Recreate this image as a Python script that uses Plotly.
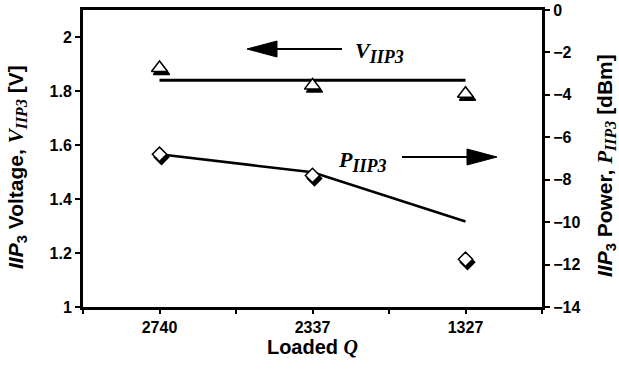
import plotly.graph_objects as go

# ---- data ----
Q_LABELS = ["2740", "2337", "1327"]
V_MEASURED = [1.885, 1.82, 1.79]       # triangles, left axis [V]
V_FIT = [1.84, 1.84, 1.84]             # line, left axis [V]
P_MEASURED = [-6.8, -7.8, -11.75]      # diamonds, right axis [dBm]
P_FIT = [-6.8, -7.65, -9.97]           # line, right axis [dBm]
LEFT_TICKS = [1, 1.2, 1.4, 1.6, 1.8, 2]
LEFT_TICKTEXT = ["1", "1.2", "1.4", "1.6", "1.8", "2"]
RIGHT_TICKS = [0, -2, -4, -6, -8, -10, -12, -14]

X = list(range(len(Q_LABELS)))

# ---- layout geometry (pixels) ----
W, H = 619, 377
PL, PR, PT, PB = 83, 542, 10, 307
XR = [-0.5, 2.5]
YL = [1, 2.1]
YR = [-14, 0]
SHX, SHY = 2, 3  # shadow offset in px

def xp(px):
    return (px - PL) / (PR - PL)

def yp(py):
    return (PB - py) / (PB - PT)

dx = SHX * (XR[1] - XR[0]) / (PR - PL)
dyl = SHY * (YL[1] - YL[0]) / (PB - PT)
dyr = SHY * (YR[1] - YR[0]) / (PB - PT)

SANS = "Liberation Sans, Arial, sans-serif"
SERIF = "Liberation Serif, Times New Roman, serif"

fig = go.Figure()

# shadows (base hidden axes, shifted ranges)
fig.add_trace(go.Scatter(x=X, y=V_MEASURED, xaxis="x", yaxis="y", mode="markers",
                         marker=dict(symbol="triangle-up", size=14, color="black",
                                     line=dict(color="black", width=1.5)),
                         hoverinfo="skip", showlegend=False))
fig.add_trace(go.Scatter(x=X, y=P_MEASURED, xaxis="x", yaxis="y2", mode="markers",
                         marker=dict(symbol="diamond", size=11, color="black",
                                     line=dict(color="black", width=1.5)),
                         hoverinfo="skip", showlegend=False))

# visible series
fig.add_trace(go.Scatter(x=X, y=V_FIT, xaxis="x3", yaxis="y3", mode="lines",
                         line=dict(color="black", width=3), showlegend=False))
fig.add_trace(go.Scatter(x=X, y=V_MEASURED, xaxis="x3", yaxis="y3", mode="markers",
                         marker=dict(symbol="triangle-up", size=14, color="white",
                                     line=dict(color="black", width=1.5)),
                         showlegend=False))
fig.add_trace(go.Scatter(x=X, y=P_FIT, xaxis="x3", yaxis="y4", mode="lines",
                         line=dict(color="black", width=2.5), showlegend=False))
fig.add_trace(go.Scatter(x=X, y=P_MEASURED, xaxis="x3", yaxis="y4", mode="markers",
                         marker=dict(symbol="diamond", size=11, color="white",
                                     line=dict(color="black", width=1.5)),
                         showlegend=False))

tickfont = dict(family=SANS, size=16, color="black", weight="bold")

shapes = []
# V arrow (pointing left)
shapes.append(dict(type="line", xref="paper", yref="paper",
                   x0=xp(275), y0=yp(49), x1=xp(342), y1=yp(49),
                   line=dict(color="black", width=2)))
shapes.append(dict(type="path", xref="paper", yref="paper",
                   path=f"M{xp(247)},{yp(49)} L{xp(277)},{yp(41)} L{xp(277)},{yp(57)} Z",
                   fillcolor="black", line=dict(color="black", width=1)))
# P arrow (pointing right)
shapes.append(dict(type="line", xref="paper", yref="paper",
                   x0=xp(402), y0=yp(157), x1=xp(469), y1=yp(157),
                   line=dict(color="black", width=2)))
shapes.append(dict(type="path", xref="paper", yref="paper",
                   path=f"M{xp(497)},{yp(157)} L{xp(467)},{yp(149)} L{xp(467)},{yp(165)} Z",
                   fillcolor="black", line=dict(color="black", width=1)))

SUB = "<sub><span style='font-size:18px'>IIP3</span></sub>"
TSUB = "<sub><span style='font-size:16px'>IIP3</span></sub>"
annotations = [
    dict(xref="paper", yref="paper", x=xp(353), y=yp(52), xanchor="left", yanchor="middle",
         text=f"<b><i>V{SUB}</i></b>", showarrow=False,
         font=dict(family=SERIF, size=22, color="black")),
    dict(xref="paper", yref="paper", x=xp(336), y=yp(161), xanchor="left", yanchor="middle",
         text=f"<b><i>P{SUB}</i></b>", showarrow=False,
         font=dict(family=SERIF, size=22, color="black")),
    # left axis title
    dict(xref="paper", yref="paper", x=xp(17), y=yp(167), xanchor="center", yanchor="middle",
         textangle=-90, showarrow=False,
         text=f"<b><i>IIP</i><sub>3</sub> Voltage, <span style='font-family:{SERIF}'><i>V{TSUB}</i></span> [V]</b>",
         font=dict(family=SANS, size=21, color="black")),
    # right axis title
    dict(xref="paper", yref="paper", x=xp(606), y=yp(166), xanchor="center", yanchor="middle",
         textangle=-90, showarrow=False,
         text=f"<b><i>IIP</i><sub>3</sub> Power, <span style='font-family:{SERIF}'><i>P{TSUB}</i></span> [dBm]</b>",
         font=dict(family=SANS, size=21, color="black")),
]

fig.update_layout(
    width=W, height=H,
    margin=dict(l=PL, r=W - PR, t=PT, b=H - PB, pad=0, autoexpand=False),
    paper_bgcolor="white", plot_bgcolor="white",
    showlegend=False,
    shapes=shapes,
    annotations=annotations,
    xaxis=dict(range=[XR[0] - dx, XR[1] - dx], visible=False, fixedrange=True,
               automargin=False),
    yaxis=dict(range=[YL[0] + dyl, YL[1] + dyl], visible=False, fixedrange=True,
               automargin=False),
    yaxis2=dict(range=[YR[0] + dyr, YR[1] + dyr], visible=False, overlaying="y",
                fixedrange=True, automargin=False),
    xaxis3=dict(range=XR, overlaying="x", anchor="y3", side="bottom",
                tickmode="array", tickvals=X, ticktext=Q_LABELS,
                ticks="outside", ticklen=4, tickwidth=2, tickcolor="black",
                minor=dict(tickmode="array", tickvals=[-0.5, 0.5, 1.5, 2.5],
                           ticks="outside", ticklen=4, tickwidth=2, tickcolor="black"),
                showline=True, linecolor="black", linewidth=3, mirror=True,
                showgrid=False, zeroline=False, tickfont=tickfont, automargin=False,
                ticklabelstandoff=0,
                title=dict(text=f"<b>Loaded <span style='font-family:{SERIF}'><i>Q</i></span></b>",
                           font=dict(family=SANS, size=20, color="black"), standoff=4)),
    yaxis3=dict(range=YL, overlaying="y", anchor="x3", side="left",
                tickmode="array", tickvals=LEFT_TICKS, ticktext=LEFT_TICKTEXT,
                ticks="outside", ticklen=5, tickwidth=2, tickcolor="black",
                showline=True, linecolor="black", linewidth=3, automargin=False,
                showgrid=False, zeroline=False, tickfont=tickfont),
    yaxis4=dict(range=YR, overlaying="y", anchor="x3", side="right",
                tickmode="array", tickvals=RIGHT_TICKS,
                ticks="outside", ticklen=5, tickwidth=2, tickcolor="black",
                showline=True, linecolor="black", linewidth=3, automargin=False,
                showgrid=False, zeroline=False, tickfont=tickfont),
    yaxis5=dict(range=YL, overlaying="y", anchor="x3", side="left",
                tickmode="array", tickvals=LEFT_TICKS, showticklabels=False,
                ticks="inside", ticklen=5, tickwidth=2, tickcolor="black",
                showline=False, showgrid=False, zeroline=False, automargin=False),
    yaxis6=dict(range=YR, overlaying="y", anchor="x3", side="right",
                tickmode="array", tickvals=RIGHT_TICKS, showticklabels=False,
                ticks="inside", ticklen=5, tickwidth=2, tickcolor="black",
                showline=False, showgrid=False, zeroline=False, automargin=False),
)

fig.write_html("out.html", post_script="document.body.style.margin='0px';",
               config={"displayModeBar": False})
